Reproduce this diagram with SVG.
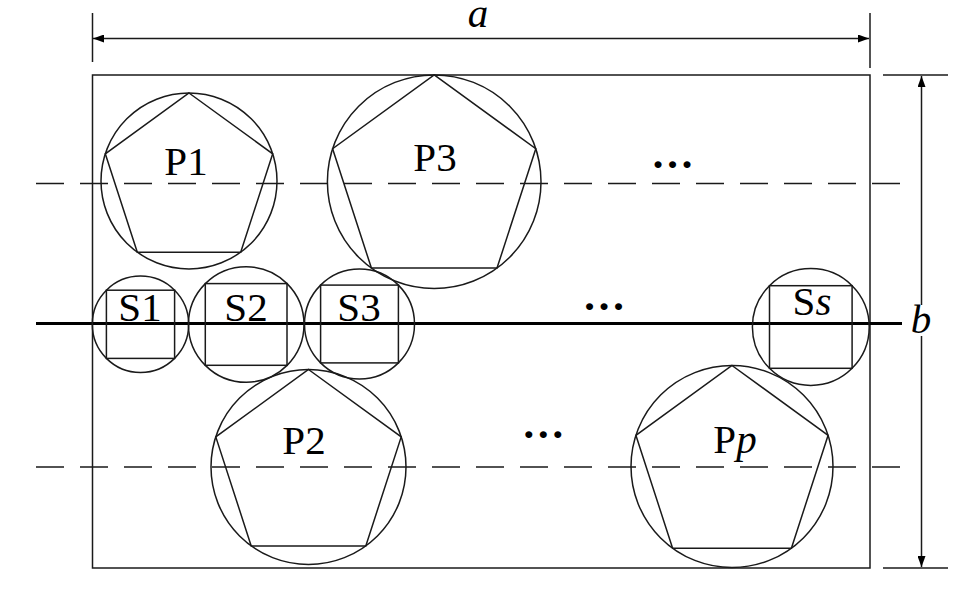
<svg xmlns="http://www.w3.org/2000/svg" width="964" height="597" viewBox="0 0 964 597">
<style>
.s{fill:none;stroke:#1a1a1a;stroke-width:1.5}
.d{fill:none;stroke:#1a1a1a;stroke-width:1.6;stroke-dasharray:28 16}
.t{font-family:"Liberation Serif","Times New Roman",serif;font-size:41px;fill:#000;text-anchor:middle}
.e{font-family:"Liberation Serif","Times New Roman",serif;font-size:43px;font-weight:bold;fill:#000;text-anchor:middle}
.i{font-style:italic}
</style>
<defs>
<marker id="ar" viewBox="0 0 11 8" refX="11" refY="4" markerWidth="11" markerHeight="8" markerUnits="userSpaceOnUse" orient="auto-start-reverse">
<path d="M0,0 L11,4 L0,8 z" fill="#000"/>
</marker>
</defs>
<rect width="964" height="597" fill="#fff"/>
<g id="frame">
<rect class="s" x="92.5" y="75" width="777.5" height="493"/>
</g>
<g id="connectors">
<line class="s" x1="92.5" y1="13" x2="92.5" y2="62"/>
<line class="s" x1="870" y1="13" x2="870" y2="68"/>
<line class="s" x1="93" y1="38.5" x2="869" y2="38.5" marker-start="url(#ar)" marker-end="url(#ar)"/>
<line class="s" x1="883" y1="75" x2="948" y2="75"/>
<line class="s" x1="883" y1="568" x2="948" y2="568"/>
<line class="s" x1="921.5" y1="305" x2="921.5" y2="76" marker-end="url(#ar)"/>
<line class="s" x1="921.5" y1="336" x2="921.5" y2="567" marker-end="url(#ar)"/>
<line class="d" x1="36" y1="183.5" x2="902" y2="183.5"/>
<line class="d" x1="36" y1="467" x2="902" y2="467"/>
<line x1="36" y1="323.5" x2="902" y2="323.5" stroke="#000" stroke-width="3.2"/>
</g>
<g id="P1">
<circle class="s" cx="189" cy="181" r="88"/>
<polygon class="s" points="189,93 272.7,153.8 240.7,252.2 137.3,252.2 105.3,153.8"/>
<text class="t" x="186" y="175">P1</text>
</g>
<g id="P3">
<circle class="s" cx="434.2" cy="181.7" r="106.8"/>
<polygon class="s" points="434.2,74.9 535.8,148.7 497,268.1 371.4,268.1 332.6,148.7"/>
<text class="t" x="435" y="171">P3</text>
</g>
<g id="P2">
<circle class="s" cx="308.5" cy="467" r="97.5"/>
<polygon class="s" points="308.5,369.5 401.2,436.9 365.8,545.9 251.2,545.9 215.8,436.9"/>
<text class="t" x="304" y="454">P2</text>
</g>
<g id="Pp">
<circle class="s" cx="732" cy="466.5" r="101"/>
<polygon class="s" points="732,365.5 828.1,435.3 791.4,548.2 672.6,548.2 635.9,435.3"/>
<text class="t" x="735" y="453">P<tspan class="i">p</tspan></text>
</g>
<g id="S1">
<circle class="s" cx="140.5" cy="324.3" r="48.2"/>
<rect class="s" x="106.4" y="290.2" width="68.2" height="68.2"/>
<text class="t" x="140" y="321">S1</text>
</g>
<g id="S2">
<circle class="s" cx="246.2" cy="324.5" r="57.8"/>
<rect class="s" x="205.3" y="283.6" width="81.7" height="81.7"/>
<text class="t" x="246" y="321">S2</text>
</g>
<g id="S3">
<circle class="s" cx="359.5" cy="324" r="55"/>
<rect class="s" x="320.6" y="285.1" width="77.8" height="77.8"/>
<text class="t" x="359" y="321">S3</text>
</g>
<g id="Ss">
<circle class="s" cx="810.8" cy="327" r="58.4"/>
<rect class="s" x="769.5" y="285.7" width="82.6" height="82.6"/>
<text class="t" x="812" y="315">S<tspan class="i">s</tspan></text>
</g>
<g id="labels">
<text class="t i" x="478" y="27">a</text>
<text class="t i" x="921" y="333">b</text>
<text class="e" x="672.5" y="168">…</text>
<text class="e" x="604" y="310">…</text>
<text class="e" x="543.3" y="438">…</text>
</g>
</svg>
